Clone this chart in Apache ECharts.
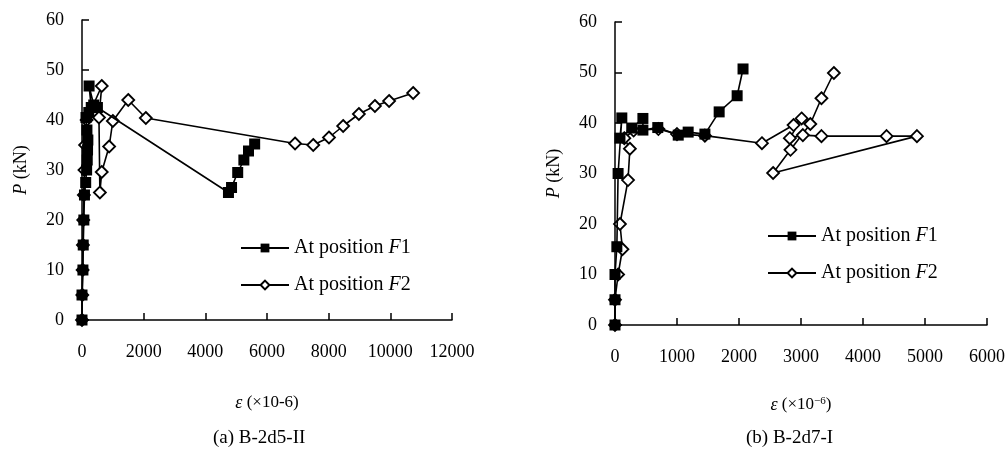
<!DOCTYPE html>
<html>
<head>
<meta charset="utf-8">
<title>P-strain curves</title>
<script src="https://cdn.jsdelivr.net/npm/echarts@6/dist/echarts.min.js"></script>
<style>
  html, body { margin: 0; padding: 0; background: #fff; }
  #main { width: 1008px; height: 461px; }
</style>
</head>
<body>
<div id="main"></div>
<script>
// (a) B-2d5-II  strain (x10-6) / load P (kN)
var aF1Strain = [0, 0, 30, 40, 60, 80, 120, 150, 170, 180, 190, 160, 130, 220, 300, 230, 380, 500, 4750, 4850, 5050, 5250, 5400, 5600];
var aF1Load   = [0, 5, 10, 15, 20, 25, 27.5, 30, 32, 34, 36, 38, 40.5, 41.5, 42.5, 46.8, 43, 42.5, 25.5, 26.5, 29.5, 32, 33.8, 35.2];
var aF2Strain = [0, 10, 20, 30, 40, 60, 80, 100, 150, 640, 550, 580, 640, 880, 1000, 1500, 2070, 6910, 7500, 8010, 8470, 8980, 9500, 9960, 10740];
var aF2Load   = [0, 5, 10, 15, 20, 25, 30, 35, 40, 46.8, 40.5, 25.5, 29.6, 34.7, 39.8, 44, 40.4, 35.3, 35, 36.5, 38.8, 41.2, 42.8, 43.8, 45.4];

// (b) B-2d7-I
var bF1Strain = [0, 0, 0, 30, 50, 110, 80, 270, 450, 450, 690, 1020, 1180, 1450, 1680, 1970, 2065];
var bF1Load   = [0, 5, 10, 15.5, 30, 41, 37, 39, 40.9, 38.6, 39.1, 37.6, 38.2, 37.8, 42.2, 45.4, 50.7];
var bF2Strain = [0, 0, 50, 120, 80, 210, 240, 150, 300, 700, 1000, 1450, 2370, 2880, 3010, 2820, 3030, 3330, 4380, 4870, 2550, 2830, 3150, 3330, 3530];
var bF2Load   = [0, 5, 10, 15, 20, 28.7, 34.9, 37, 38.5, 38.8, 37.8, 37.5, 36, 39.6, 40.9, 37, 37.6, 37.4, 37.4, 37.4, 30.1, 34.7, 39.8, 44.9, 49.9];

var xTicksA = [0, 12000, 2000];
var xTicksB = [0, 6000, 1000];
var yTicks  = [0, 60, 10];

var seriesNames = ['At position F1', 'At position F2'];
var captions = ['(a) B-2d5-II', '(b) B-2d7-I'];

function zip(xs, ys) {
    return xs.map(function (x, i) { return [x, ys[i]]; });
}

var font = 'Liberation Serif, Times New Roman, serif';
var black = '#000';

function xAxisOf(idx, ticks, name, gap) {
    return {
        gridIndex: idx,
        type: 'value',
        min: ticks[0], max: ticks[1], interval: ticks[2],
        name: name,
        nameLocation: 'middle',
        nameGap: gap,
        nameTextStyle: {
            color: black, fontFamily: font, fontSize: 17,
            rich: {
                i: { fontStyle: 'italic', fontFamily: font, fontSize: 18, color: black },
                s: { fontFamily: font, fontSize: 11, color: black, verticalAlign: 'top', padding: [0, 0, 6, 0] }
            }
        },
        axisLine: { lineStyle: { color: black, width: 1.5 } },
        axisTick: { inside: true, length: 7, lineStyle: { color: black, width: 1.5 } },
        axisLabel: {
            color: black, fontFamily: font, fontSize: 18, margin: 23,
            formatter: function (v) { return String(v); }   // no thousands separator
        },
        splitLine: { show: false }
    };
}

function yAxisOf(idx) {
    return {
        gridIndex: idx,
        type: 'value',
        min: yTicks[0], max: yTicks[1], interval: yTicks[2],
        name: '{i|P} (kN)',
        nameLocation: 'middle',
        nameRotate: 90,
        nameGap: 52,
        nameTextStyle: {
            color: black, fontFamily: font, fontSize: 18,
            rich: { i: { fontStyle: 'italic', fontFamily: font, fontSize: 18, color: black } }
        },
        axisLine: { lineStyle: { color: black, width: 1.5 } },
        axisTick: { inside: true, length: 7, lineStyle: { color: black, width: 1.5 } },
        axisLabel: { color: black, fontFamily: font, fontSize: 18, margin: 18 },
        splitLine: { show: false }
    };
}

function lineOf(name, idx, data, filled) {
    return {
        name: name,
        type: 'line',
        xAxisIndex: idx,
        yAxisIndex: idx,
        data: data,
        clip: false,
        symbol: filled ? 'rect' : 'diamond',
        symbolSize: filled ? 11 : 12,
        z: filled ? 3 : 2,
        lineStyle: { color: black, width: 1.6 },
        itemStyle: filled ? { color: black } : { color: '#fff', borderColor: black, borderWidth: 1.8 },
        animation: false
    };
}

function legendOf(left, top) {
    return {
        data: seriesNames,
        orient: 'vertical',
        left: left,
        top: top,
        itemWidth: 48,
        itemHeight: 11,
        itemGap: 17,
        formatter: function (n) { return n.replace('F', '{i|F}'); },
        textStyle: {
            color: black, fontFamily: font, fontSize: 20,
            rich: { i: { fontStyle: 'italic', fontFamily: font, fontSize: 20, color: black } }
        }
    };
}

var myChart = echarts.init(document.getElementById('main'));
myChart.setOption({
    backgroundColor: '#fff',
    animation: false,
    grid: [
        { left: 82, top: 20, width: 370, height: 300 },
        { left: 615, top: 22, width: 372, height: 303 }
    ],
    xAxis: [
        xAxisOf(0, xTicksA, '{i|ε} (×10-6)', 74),
        xAxisOf(1, xTicksB, '{i|ε} (×10{s|−6})', 71)
    ],
    yAxis: [yAxisOf(0), yAxisOf(1)],
    legend: [legendOf(235, 233), legendOf(762, 221)],
    graphic: [
        { type: 'text', left: 213, top: 429, style: { text: captions[0], fill: black, font: '19px ' + font } },
        { type: 'text', left: 746, top: 429, style: { text: captions[1], fill: black, font: '19px ' + font } }
    ],
    series: [
        lineOf(seriesNames[1], 0, zip(aF2Strain, aF2Load), false),
        lineOf(seriesNames[0], 0, zip(aF1Strain, aF1Load), true),
        lineOf(seriesNames[1], 1, zip(bF2Strain, bF2Load), false),
        lineOf(seriesNames[0], 1, zip(bF1Strain, bF1Load), true)
    ]
});
</script>
</body>
</html>
